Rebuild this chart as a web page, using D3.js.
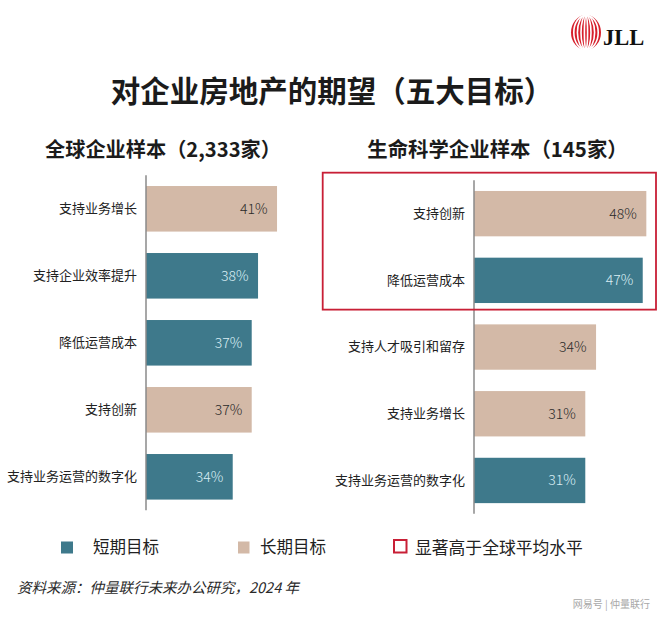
<!DOCTYPE html>
<html>
<head>
<meta charset="utf-8">
<script src="https://cdn.jsdelivr.net/npm/d3@7"></script>
<style>
  html, body { margin: 0; padding: 0; background: #fff; }
  svg { display: block; }
  text { font-family: "Noto Sans CJK SC", "Noto Sans", sans-serif; }
</style>
</head>
<body>
<svg id="chart" width="660" height="619"></svg>
<script>
// ---------- Data ----------
const mainTitle = "对企业房地产的期望（五大目标）";
const leftTitle = "全球企业样本（2,333家）";
const rightTitle = "生命科学企业样本（145家）";

const leftCategories = ["支持业务增长", "支持企业效率提升", "降低运营成本", "支持创新", "支持业务运营的数字化"];
const leftValues = [41, 38, 37, 37, 34];
const leftTypes = ["long", "short", "short", "long", "short"];

const rightCategories = ["支持创新", "降低运营成本", "支持人才吸引和留存", "支持业务增长", "支持业务运营的数字化"];
const rightValues = [48, 47, 34, 31, 31];
const rightTypes = ["long", "short", "long", "long", "short"];
const rightHighlighted = ["支持创新", "降低运营成本"];

const legendLabels = ["短期目标", "长期目标", "显著高于全球平均水平"];
const sourceText = "资料来源：仲量联行未来办公研究，2024 年";
const watermarkText = "网易号 | 仲量联行";

// ---------- Styles ----------
const colors = { short: "#3e798b", long: "#d3b9a7" };
const labelColors = { short: "#d9eef4", long: "#2a2a2a" };
const red = "#c81f36";

const svg = d3.select("#chart");

// JLL logo
const logo = svg.append("g").attr("transform", "translate(586,32.5)");
logo.append("ellipse").attr("rx", 15).attr("ry", 17.5).attr("fill", "#d71f2b");
[12.2, 8.6, 5.0, 1.6].forEach(rx => {
  logo.append("ellipse").attr("rx", rx).attr("ry", 17.2)
    .attr("fill", "none").attr("stroke", "#fff").attr("stroke-width", 1.6);
});
svg.append("text").attr("x", 603).attr("y", 44.5)
  .style("font-family", "'Liberation Serif', 'DejaVu Serif', serif")
  .attr("font-weight", 700).attr("font-size", 22.5).attr("fill", "#111")
  .text("JLL");

// Main title
svg.append("text").attr("x", 332).attr("y", 101.5)
  .attr("text-anchor", "middle").attr("font-size", 29.5).attr("font-weight", 700)
  .attr("fill", "#1b1b1b").text(mainTitle);

// Subtitles
svg.append("text").attr("x", 163).attr("y", 157)
  .attr("text-anchor", "middle").attr("font-size", 20.2).attr("font-weight", 700)
  .attr("fill", "#1b1b1b").text(leftTitle);
svg.append("text").attr("x", 497.5).attr("y", 157)
  .attr("text-anchor", "middle").attr("font-size", 20.4).attr("font-weight", 700)
  .attr("fill", "#1b1b1b").text(rightTitle);

function drawPanel(cfg) {
  const { categories, values, types, x, yRange } = cfg;
  const y = d3.scaleBand().domain(categories).range(yRange)
    .paddingInner(0.32).paddingOuter(0.16);
  const g = svg.append("g");

  g.selectAll("rect.bar").data(categories).join("rect")
    .attr("class", "bar")
    .attr("x", x.range()[0])
    .attr("y", d => y(d))
    .attr("width", (d, i) => x(values[i]) - x.range()[0])
    .attr("height", y.bandwidth())
    .attr("fill", (d, i) => colors[types[i]]);

  g.selectAll("text.val").data(categories).join("text")
    .attr("class", "val")
    .attr("x", (d, i) => x(values[i]) - 9.5)
    .attr("y", d => y(d) + y.bandwidth() / 2)
    .attr("dy", "0.35em")
    .attr("text-anchor", "end")
    .attr("font-size", 14).attr("font-weight", 300)
    .attr("fill", (d, i) => labelColors[types[i]])
    .text((d, i) => values[i] + "%");

  // axis (category labels) via d3 axis
  const axis = d3.axisLeft(y).tickSize(0).tickPadding(9);
  const ax = g.append("g").attr("transform", `translate(${x.range()[0]},0)`).call(axis);
  ax.select(".domain").remove();
  ax.selectAll("text").attr("font-size", 13).attr("fill", "#222")
    .style("font-family", "'Noto Sans CJK SC', sans-serif");

  g.append("line")
    .attr("x1", x.range()[0]).attr("x2", x.range()[0])
    .attr("y1", yRange[0]).attr("y2", yRange[1])
    .attr("stroke", "#8a8a8a").attr("stroke-width", 1.5);
  return y;
}

const xLeft = d3.scaleLinear().domain([20.3, 50]).range([146, 334]);
drawPanel({ categories: leftCategories, values: leftValues, types: leftTypes, x: xLeft, yRange: [175.3, 510.3] });

const xRight = d3.scaleLinear().domain([0, 50]).range([474, 653.5]);
const yR = drawPanel({ categories: rightCategories, values: rightValues, types: rightTypes, x: xRight, yRange: [180.3, 513.8] });

// Highlight box around significant categories
const hiTop = yR(rightHighlighted[0]) - 18.3;
const hiBottom = yR(rightHighlighted[rightHighlighted.length - 1]) + yR.bandwidth() + 6.6;
svg.append("rect")
  .attr("x", 322.7).attr("y", hiTop)
  .attr("width", 656 - 322.7).attr("height", hiBottom - hiTop)
  .attr("fill", "none").attr("stroke", red).attr("stroke-width", 1.8);

// Legend
const legend = svg.append("g");
legend.append("rect").attr("x", 61).attr("y", 541.5).attr("width", 12).attr("height", 12).attr("fill", colors.short);
legend.append("text").attr("x", 93).attr("y", 547.5).attr("dy", "0.36em").attr("font-size", 16.5).attr("fill", "#222").text(legendLabels[0]);
legend.append("rect").attr("x", 238).attr("y", 541.5).attr("width", 11.5).attr("height", 12).attr("fill", colors.long);
legend.append("text").attr("x", 260).attr("y", 547.5).attr("dy", "0.36em").attr("font-size", 16.5).attr("fill", "#222").text(legendLabels[1]);
legend.append("rect").attr("x", 394).attr("y", 540).attr("width", 12.5).attr("height", 12.5).attr("fill", "none").attr("stroke", red).attr("stroke-width", 2);
legend.append("text").attr("x", 415).attr("y", 547.5).attr("dy", "0.36em").attr("font-size", 16.8).attr("fill", "#222").text(legendLabels[2]);

// Source
svg.append("text").attr("x", 17).attr("y", 588).attr("dy", "0.36em")
  .attr("font-size", 14.5).attr("font-style", "italic").attr("fill", "#2a2a2a")
  .text(sourceText);

// Watermark
svg.append("text").attr("x", 650).attr("y", 604).attr("dy", "0.36em")
  .attr("text-anchor", "end").attr("font-size", 10).attr("fill", "#a8a8a8")
  .text(watermarkText);
</script>
</body>
</html>
